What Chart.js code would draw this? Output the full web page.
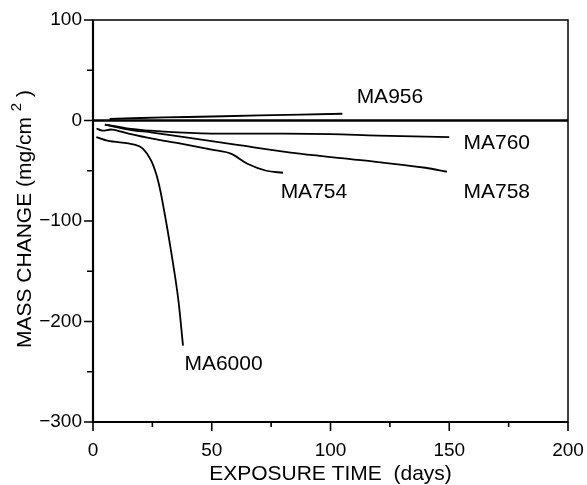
<!DOCTYPE html>
<html>
<head>
<meta charset="utf-8">
<script src="https://cdn.jsdelivr.net/npm/chart.js@4.4.1/dist/chart.umd.min.js"></script>
<style>
    html, body { margin: 0; padding: 0; background: #fff; }
    #wrap { width: 587px; height: 485px; }
</style>
</head>
<body>
<div id="wrap"><canvas id="massChart"></canvas></div>
<script>
// exposure time (days) vs mass change (mg/cm2)
const ma956Days = [7, 20, 40, 70, 105];
const ma956Mass = [1.5, 2.5, 3.5, 5, 6.7];

const ma760Days = [5, 15, 30, 50, 80, 100, 120, 150];
const ma760Mass = [-4, -8, -11, -13, -13, -13.5, -15, -16.5];

const ma758Days = [5, 15, 25, 37, 60, 87, 115, 140, 149];
const ma758Mass = [-4, -9, -12, -16, -24, -33, -40, -47, -51];

const ma754Days = [1.5, 4, 8, 15, 25, 37, 50, 58, 65, 73, 80];
const ma754Mass = [-8, -10, -9, -13, -18, -23, -29, -33, -43, -50, -52];

const ma6000Days = [1.4, 6, 17.5, 21, 24.5, 27.4, 30.2, 33, 35.8, 37.9];
const ma6000Mass = [-16.6, -20, -24, -28, -40, -60, -93, -132, -176, -224];

const seriesNames = ['MA956', 'MA760', 'MA758', 'MA754', 'MA6000'];
const xTicks = [0, 50, 100, 150, 200];
const yTicks = [-300, -200, -100, 0, 100];

const FONT = "'Liberation Sans', Arial, Helvetica, sans-serif";

function toPoints(days, mass) {
    return days.map((d, i) => ({ x: d, y: mass[i] }));
}

const seriesData = [
    toPoints(ma956Days, ma956Mass),
    toPoints(ma760Days, ma760Mass),
    toPoints(ma758Days, ma758Mass),
    toPoints(ma754Days, ma754Mass),
    toPoints(ma6000Days, ma6000Mass)
];

// where each curve name sits, in data units (left edge, vertical middle)
const labelAnchors = {
    MA956: [111, 23],
    MA760: [156, -23],
    MA758: [156, -71],
    MA754: [79, -71],
    MA6000: [38.5, -242]
};

const framePlugin = {
    id: 'frame',
    afterDraw(chart) {
        const ctx = chart.ctx;
        const a = chart.chartArea;
        const xs = chart.scales.x;
        const ys = chart.scales.y;
        ctx.save();
        ctx.strokeStyle = '#000';

        // box
        ctx.lineWidth = 1.5;
        ctx.strokeRect(a.left, a.top, a.right - a.left, a.bottom - a.top);
        ctx.lineWidth = 2.2;
        ctx.beginPath();
        ctx.moveTo(a.left, a.top);
        ctx.lineTo(a.left, a.bottom);
        ctx.lineTo(a.right, a.bottom);
        ctx.stroke();

        // zero line
        const y0 = ys.getPixelForValue(0);
        ctx.lineWidth = 2.4;
        ctx.beginPath();
        ctx.moveTo(a.left, y0);
        ctx.lineTo(a.right, y0);
        ctx.stroke();

        // outward tick marks, long on labelled values
        ctx.lineWidth = 1.6;
        ctx.beginPath();
        xs.ticks.forEach(t => {
            const px = xs.getPixelForValue(t.value);
            const len = xTicks.includes(t.value) ? 9 : 5;
            ctx.moveTo(px, a.bottom);
            ctx.lineTo(px, a.bottom + len);
        });
        ys.ticks.forEach(t => {
            const py = ys.getPixelForValue(t.value);
            const len = yTicks.includes(t.value) ? 9 : 6;
            ctx.moveTo(a.left, py);
            ctx.lineTo(a.left - len, py);
        });
        ctx.stroke();

        // curve names
        ctx.fillStyle = '#000';
        ctx.font = '21px ' + FONT;
        ctx.textBaseline = 'middle';
        ctx.textAlign = 'left';
        seriesNames.forEach(name => {
            const p = labelAnchors[name];
            ctx.fillText(name, xs.getPixelForValue(p[0]), ys.getPixelForValue(p[1]));
        });

        // y axis title with superscript
        ctx.translate(25, 219);
        ctx.rotate(-Math.PI / 2);
        const main = 'MASS CHANGE (mg/cm';
        const sup = '2';
        const tail = ' )';
        ctx.font = '21px ' + FONT;
        const wMain = ctx.measureText(main + ' ').width;
        const wTail = ctx.measureText(tail).width;
        ctx.font = '15px ' + FONT;
        const wSup = ctx.measureText(sup).width;
        const total = wMain + wSup + wTail;
        let x = -total / 2;
        ctx.font = '21px ' + FONT;
        ctx.fillText(main + ' ', x, 0);
        x += wMain;
        ctx.font = '15px ' + FONT;
        ctx.fillText(sup, x, -8);
        x += wSup;
        ctx.font = '21px ' + FONT;
        ctx.fillText(tail, x, 0);
        ctx.restore();
    }
};

new Chart(document.getElementById('massChart').getContext('2d'), {
    type: 'line',
    data: {
        datasets: seriesNames.map((name, i) => ({
            label: name,
            data: seriesData[i],
            borderColor: '#000',
            borderWidth: 1.8,
            pointRadius: 0,
            tension: 0.35,
            fill: false
        }))
    },
    options: {
        responsive: true,
        maintainAspectRatio: false,
        animation: false,
        layout: { padding: { top: 20, right: 19, left: 0, bottom: 0 } },
        plugins: {
            legend: { display: false },
            tooltip: { enabled: false }
        },
        scales: {
            x: {
                type: 'linear',
                min: 0,
                max: 200,
                grid: { display: false, drawTicks: false },
                border: { display: false },
                ticks: {
                    stepSize: 25,
                    autoSkip: false,
                    maxRotation: 0,
                    padding: 17,
                    color: '#000',
                    font: { size: 19, family: FONT },
                    callback: v => (xTicks.includes(v) ? String(v) : '')
                },
                title: {
                    display: true,
                    text: 'EXPOSURE TIME  (days)',
                    color: '#000',
                    font: { size: 21, family: FONT, lineHeight: 1 },
                    padding: 0
                },
                afterFit: scale => {
                    scale.height = 63;
                    scale.paddingLeft = 0;
                    scale.paddingRight = 0;
                }
            },
            y: {
                type: 'linear',
                min: -300,
                max: 100,
                grid: { display: false, drawTicks: false },
                border: { display: false },
                ticks: {
                    stepSize: 50,
                    autoSkip: false,
                    padding: 11,
                    color: '#000',
                    font: { size: 19, family: FONT },
                    callback: v => (yTicks.includes(v) ? String(v).replace('-', '\u2212') : '')
                },
                afterFit: scale => {
                    scale.width = 93;
                    scale.paddingTop = 0;
                    scale.paddingBottom = 0;
                }
            }
        }
    },
    plugins: [framePlugin]
});
</script>
</body>
</html>
